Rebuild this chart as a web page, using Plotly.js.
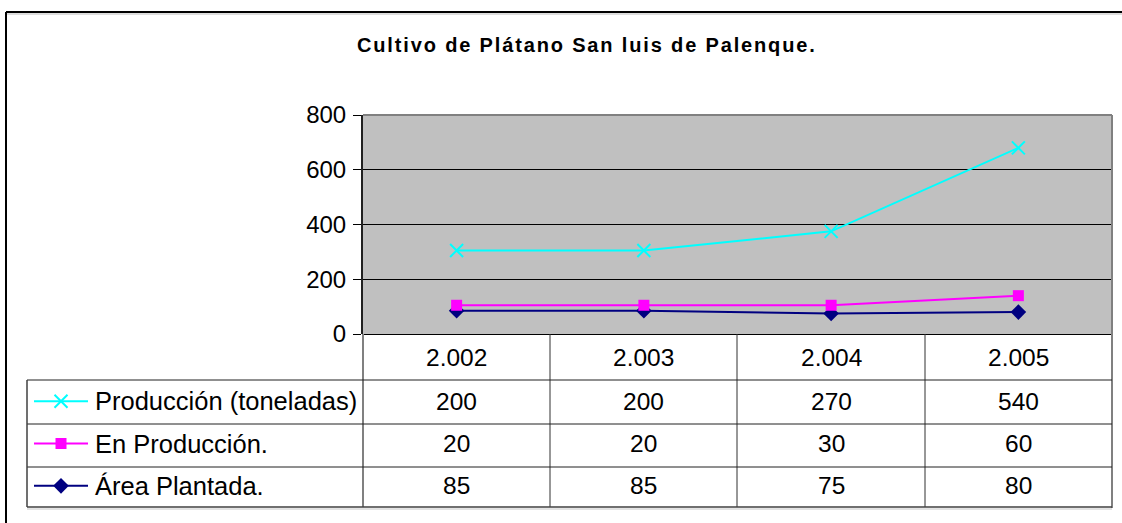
<!DOCTYPE html>
<html>
<head>
<meta charset="utf-8">
<script src="https://cdn.plot.ly/plotly-3.0.1.min.js"></script>
<style>html,body{margin:0;padding:0;background:#fff;}#chart{width:1122px;height:523px;}</style>
</head>
<body>
<div id="chart"></div>
<script>
// ---- data ----
var years = ["2.002", "2.003", "2.004", "2.005"];
var seriesNames = ["Producción (toneladas)", "En Producción.", "Área Plantada."];
var produccion = [200, 200, 270, 540];
var enProduccion = [20, 20, 30, 60];
var areaPlantada = [85, 85, 75, 80];
var yTicks = [0, 200, 400, 600, 800];
var chartTitle = "Cultivo de Plátano San luis de Palenque.";

// ---- helpers (pixel -> paper) ----
var W = 1122, H = 523;
function px(x){ return x / W; }
function py(y){ return 1 - y / H; }

var colors = ["#00FFFF", "#FF00FF", "#000080"];
var symbols = ["x-thin", "square", "diamond"];
var msizes = [13, 11, 12];

// stacked line chart: cumulative sums
var s1 = areaPlantada.slice();
var s2 = areaPlantada.map(function(v,i){ return v + enProduccion[i]; });
var s3 = s2.map(function(v,i){ return v + produccion[i]; });
var stacked = [s3, s2, s1];
var tableVals = [produccion, enProduccion, areaPlantada];
var xIdx = years.map(function(_, i){ return i; });

var traces = [];
for (var k = 2; k >= 0; k--) {
  traces.push({
    x: xIdx, y: stacked[k], type: "scatter", mode: "lines+markers",
    name: seriesNames[k], text: years,
    line: {color: colors[k], width: 2},
    marker: {symbol: symbols[k], size: msizes[k], color: colors[k],
             line: {color: colors[k], width: k === 0 ? 2 : 0}},
    xaxis: "x", yaxis: "y", showlegend: false, hoverinfo: "skip"
  });
}
// legend samples inside the table
var rowPos = [2.5, 1.5, 0.5];
for (var k = 0; k < 3; k++) {
  traces.push({
    x: [0, 1], y: [rowPos[k], rowPos[k]], type: "scatter", mode: "lines",
    line: {color: colors[k], width: 2}, xaxis: "x2", yaxis: "y2",
    showlegend: false, hoverinfo: "skip"
  });
  traces.push({
    x: [0.5], y: [rowPos[k]], type: "scatter", mode: "markers",
    marker: {symbol: symbols[k], size: msizes[k], color: colors[k],
             line: {color: colors[k], width: k === 0 ? 2 : 0}},
    xaxis: "x2", yaxis: "y2", showlegend: false, hoverinfo: "skip"
  });
}

var fontFam = "Liberation Sans, Arial, sans-serif";
var tSize = 24.5;
var lSize = 25.5;
var annotations = [];
annotations.push({
  text: "<b>" + chartTitle + "</b>", xref: "paper", yref: "paper",
  x: px(587), y: py(45), xanchor: "center", yanchor: "middle",
  showarrow: false, font: {family: fontFam, size: 20, color: "#000"}
});
for (var i = 0; i < years.length; i++) {
  annotations.push({
    text: years[i], xref: "x", yref: "paper", x: xIdx[i], y: py(357),
    xanchor: "center", yanchor: "middle", showarrow: false,
    font: {family: fontFam, size: tSize, color: "#000"}
  });
}
for (var k = 0; k < 3; k++) {
  annotations.push({
    text: seriesNames[k], xref: "paper", yref: "y2", x: px(93), y: rowPos[k],
    xanchor: "left", yanchor: "middle", showarrow: false,
    font: {family: fontFam, size: lSize, color: "#000"}
  });
  for (var i = 0; i < years.length; i++) {
    annotations.push({
      text: String(tableVals[k][i]), xref: "x", yref: "y2", x: xIdx[i], y: rowPos[k],
      xanchor: "center", yanchor: "middle", showarrow: false,
      font: {family: fontFam, size: tSize, color: "#000"}
    });
  }
}

var shapes = [];
// grey plot background
shapes.push({type: "rect", xref: "x domain", yref: "y domain", x0: 0, x1: 1, y0: 0, y1: 1,
             fillcolor: "#C0C0C0", line: {width: 0}, layer: "below"});
function line(x0,y0,x1,y1,color,width){
  shapes.push({type:"line", xref:"paper", yref:"paper", x0:px(x0), y0:py(y0), x1:px(x1), y1:py(y1),
               line:{color:color, width:width}});
}
// outer frame
line(6, 12, 1122, 12, "#000", 2);
line(6, 12, 6, 523, "#000", 2);
line(7, 14, 1122, 14, "#bbb", 1);
// plot area border
line(363, 115, 1112, 115, "#808080", 2);
line(1112, 115, 1112, 334, "#808080", 2);
// table
var vcols = [363, 550, 737, 925];
vcols.forEach(function(x){ line(x, 334, x, 507, x === 363 ? "#808080" : "#303030", x === 363 ? 2 : 1); });
line(1112, 334, 1112, 508, "#808080", 2);
[380, 424, 467].forEach(function(y){ line(27, y, 1112, y, "#202020", 1); });
line(27, 507, 1112, 507, "#404040", 1.5);
line(27, 509, 1112, 509, "#c8c8c8", 1);
line(27, 380, 27, 507, "#404040", 1.5);

var layout = {
  width: W, height: H,
  margin: {l: 0, r: 0, t: 0, b: 0},
  paper_bgcolor: "#fff",
  plot_bgcolor: "rgba(0,0,0,0)",
  showlegend: false,
  xaxis: {
    domain: [px(363), px(1112)], range: [-0.5, 3.5],
    showticklabels: false, ticks: "", showgrid: false, zeroline: false,
    showline: false, fixedrange: true
  },
  yaxis: {
    domain: [py(334), py(115)], range: [0, 800], tickvals: yTicks,
    ticks: "outside", ticklen: 8, tickwidth: 1, tickcolor: "#000",
    showgrid: true, gridcolor: "#000", gridwidth: 1,
    showline: true, linecolor: "#202020", linewidth: 2, zeroline: true, zerolinecolor: "#000", zerolinewidth: 1,
    tickfont: {family: fontFam, size: 24, color: "#000"}, ticklabelstandoff: 2, fixedrange: true
  },
  xaxis2: {
    domain: [px(34), px(88)], range: [0, 1], anchor: "y2", visible: false, fixedrange: true
  },
  yaxis2: {
    domain: [py(507), py(380)], range: [0, 3], anchor: "x2", visible: false, fixedrange: true
  },
  shapes: shapes,
  annotations: annotations
};

Plotly.newPlot("chart", traces, layout, {displayModeBar: false, staticPlot: true}).then(function(gd){
  var t = gd.querySelector(".annotation[data-index='0'] text");
  if (t) { t.style.letterSpacing = "1.85px"; }
});
</script>
</body>
</html>
